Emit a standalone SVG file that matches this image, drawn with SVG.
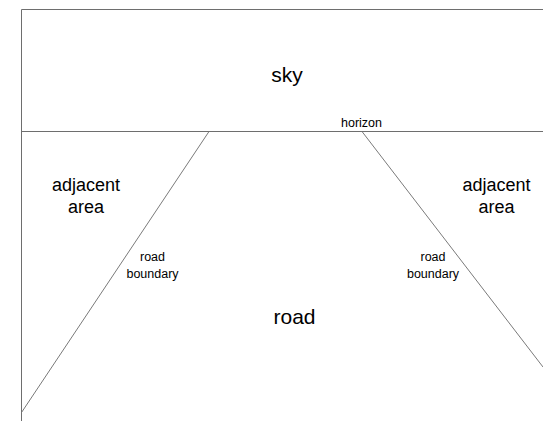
<svg xmlns="http://www.w3.org/2000/svg" width="543" height="421" viewBox="0 0 543 421">
  <style>
    .frame { stroke: #6e6e6e; stroke-width: 1; fill: none; }
    .edge { stroke: #7a7a7a; stroke-width: 1; fill: none; }
    text { font-family: "Liberation Sans", Arial, sans-serif; fill: #000; text-anchor: middle; }
    .big { font-size: 21px; }
    .mid { font-size: 18px; }
    .small { font-size: 12.5px; }
  </style>
  <rect x="0" y="0" width="543" height="421" fill="#ffffff"/>

  <!-- frame: top edge, left edge and horizon -->
  <g id="frame">
    <path class="frame" d="M21.5 421 V9.5 H543"/>
    <path class="frame" d="M21.5 131.5 H543"/>
  </g>

  <!-- road boundaries converging at the horizon -->
  <g id="connectors">
    <line class="edge" x1="209" y1="131.5" x2="21.5" y2="412.5"/>
    <line class="edge" x1="362" y1="131.5" x2="543" y2="367"/>
  </g>

  <g id="sky"><text class="big" x="287" y="82">sky</text></g>
  <g id="horizon"><text class="small" x="361.5" y="127">horizon</text></g>
  <g id="adjacent-left">
    <text class="mid" x="86" y="191">adjacent</text>
    <text class="mid" x="86" y="212.5">area</text>
  </g>
  <g id="adjacent-right">
    <text class="mid" x="496.5" y="191">adjacent</text>
    <text class="mid" x="496.5" y="212.5">area</text>
  </g>
  <g id="boundary-left">
    <text class="small" x="152.5" y="261">road</text>
    <text class="small" x="152.5" y="278">boundary</text>
  </g>
  <g id="boundary-right">
    <text class="small" x="433" y="261">road</text>
    <text class="small" x="433" y="278">boundary</text>
  </g>
  <g id="road"><text class="big" x="294.5" y="324">road</text></g>
</svg>
